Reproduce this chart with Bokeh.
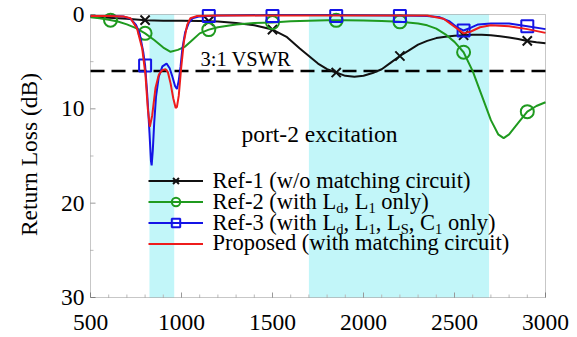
import math
from bokeh.plotting import figure
from bokeh.models import Range1d, BoxAnnotation, Label, Legend, LegendItem
from bokeh.core.properties import value
from bokeh.embed import file_html
from bokeh.resources import INLINE

# ---------------- data ----------------
ref1_x = [500, 600, 700, 800, 900, 1000, 1100, 1200, 1300, 1400, 1500, 1580, 1650, 1700, 1750,
          1800, 1850, 1900, 1950, 2000, 2050, 2100, 2150, 2200, 2250, 2300, 2350, 2400, 2450,
          2500, 2550, 2600, 2650, 2700, 2750, 2800, 2850, 2900, 2950, 3000]
ref1_y = [0.25, 0.35, 0.45, 0.6, 0.65, 0.65, 0.7, 0.75, 0.9, 1.15, 1.6, 2.4, 3.6, 4.4, 5.2,
          5.8, 6.15, 6.5, 6.6, 6.5, 6.2, 5.8, 5.1, 4.4, 3.8, 3.2, 2.8, 2.5, 2.35,
          2.25, 2.2, 2.15, 2.15, 2.2, 2.3, 2.45, 2.6, 2.8, 2.95, 3.05]
ref1_mx = [800, 1150, 1500, 1850, 2200, 2550, 2900]
ref1_my = [0.6, 0.7, 1.6, 6.15, 4.4, 2.2, 2.8]

ref2_x = [500, 550, 600, 650, 700, 750, 800, 850, 900, 940, 980, 1020, 1060, 1100, 1150, 1200,
          1300, 1400, 1500, 1600, 1700, 1800, 1900, 2000, 2100, 2200, 2300, 2350, 2400, 2450,
          2500, 2550, 2600, 2650, 2700, 2740, 2770, 2800, 2850, 2900, 2950, 3000]
ref2_y = [0.28, 0.4, 0.55, 0.75, 1.05, 1.45, 2.0, 2.7, 3.5, 3.95, 3.75, 3.4, 2.7, 2.0, 1.6, 1.35,
          1.05, 0.9, 0.85, 0.72, 0.65, 0.62, 0.62, 0.63, 0.7, 0.78, 0.95, 1.15, 1.5, 2.1,
          2.9, 4.0, 6.0, 8.6, 11.2, 12.7, 13.1, 12.7, 11.5, 10.3, 9.7, 9.3]
ref2_mx = [610, 800, 1150, 1500, 1850, 2200, 2550, 2900]
ref2_my = [0.6, 2.0, 1.6, 0.85, 0.62, 0.78, 4.0, 10.3]

ref3_x = [500, 600, 680, 720, 750, 770, 790, 800, 812, 824, 832, 836, 842, 850, 860, 875, 895,
          918, 935, 950, 965, 975, 985, 995, 1005, 1020, 1040, 1060, 1100, 1200, 1500, 1850,
          2200, 2350, 2420, 2470, 2510, 2550, 2590, 2630, 2700, 2800, 2900, 3000]
ref3_y = [0.15, 0.15, 0.2, 0.45, 1.1, 2.0, 4.0, 5.4, 8.5, 12.5, 15.5, 16.0, 14.5, 11.5, 8.7,
          6.6, 5.5, 5.2, 5.7, 6.6, 7.6, 7.9, 7.0, 5.5, 3.6, 1.9, 0.9, 0.4, 0.2, 0.1, 0.05,
          0.05, 0.1, 0.15, 0.3, 0.7, 1.3, 1.7, 1.4, 1.05, 0.95, 0.95, 1.25, 1.55]
ref3_mx = [800, 1150, 1500, 1850, 2200, 2550, 2900]
ref3_my = [5.4, 0.15, 0.15, 0.15, 0.15, 1.7, 1.25]

prop_x = [500, 600, 680, 720, 756, 784, 802, 815, 826, 839, 857, 875, 894, 912, 925, 940, 955,
          968, 975, 985, 998, 1013, 1031, 1049, 1086, 1200, 1600, 2000, 2350, 2440, 2515,
          2550, 2590, 2640, 2700, 2800, 2900, 3000]
prop_y = [0.15, 0.15, 0.2, 0.4, 1.5, 3.6, 6.4, 10.0, 11.9, 10.7, 7.8, 6.4, 5.9, 5.8, 6.1, 7.3,
          8.9, 9.9, 9.8, 8.6, 5.7, 2.9, 1.1, 0.4, 0.15, 0.1, 0.1, 0.1, 0.1, 0.45, 1.5,
          2.0, 1.8, 1.35, 1.15, 1.25, 1.55, 1.95]

band_start = [824, 1700]
band_end = [960, 2690]
vswr_db = 6.0

x_ticks = [500, 1000, 1500, 2000, 2500, 3000]
y_ticks = [0, 10, 20, 30]
y_title = "Return Loss (dB)"

legend_rows = [
    [("Ref-1 (w/o matching circuit)", False)],
    [("Ref-2 (with L", False), ("d", True), (", L", False), ("1", True), (" only)", False)],
    [("Ref-3 (with L", False), ("d", True), (", L", False), ("1", True), (", L", False),
     ("S", True), (", C", False), ("1", True), (" only)", False)],
    [("Proposed (with matching circuit)", False)],
]

# ---------------- layout / styling ----------------
W, H = 577, 337
PX_L, PX_R, PX_T, PX_B = 90, 545, 14, 297      # axes box position on the page
FONT = "Liberation Serif"
C_BLACK, C_GREEN, C_BLUE, C_RED = "#111111", "#1f9a1f", "#1414e6", "#ee1c1c"
C_BAND = "#c2f6f9"
C_FRAME = "#444444"

def dx(px):
    return x_ticks[0] + (px - PX_L) * (x_ticks[-1] - x_ticks[0]) / (PX_R - PX_L)
def dy(py):
    return y_ticks[0] + (py - PX_T) * (y_ticks[-1] - y_ticks[0]) / (PX_B - PX_T)
def dlen_x(n):
    return n * (x_ticks[-1] - x_ticks[0]) / (PX_R - PX_L)
def dlen_y(n):
    return n * (y_ticks[-1] - y_ticks[0]) / (PX_B - PX_T)

# the plotting frame fills the page; the axes box is drawn inside it
p = figure(width=W, height=H, output_backend="svg", toolbar_location=None,
           x_range=Range1d(dx(0), dx(W)), y_range=Range1d(dy(H), dy(0)), min_border=0)
p.xaxis.visible = False
p.yaxis.visible = False
p.xgrid.visible = False
p.ygrid.visible = False
p.outline_line_color = None
p.background_fill_color = "white"
p.border_fill_color = "white"

for s, e in zip(band_start, band_end):
    p.add_layout(BoxAnnotation(left=s, right=e, top=y_ticks[0], bottom=y_ticks[-1],
                               fill_color=C_BAND, fill_alpha=1.0, line_alpha=0,
                               level="underlay"))
p.segment(x0=[x_ticks[0]], x1=[x_ticks[-1]], y0=[vswr_db], y1=[vswr_db], line_color="black",
          line_width=2.5, line_dash="14 7")

# ticks (inward)
x_minor = [v for v in range(x_ticks[0], x_ticks[-1], 100) if v not in x_ticks]
y_minor = [5, 15, 25]
p.segment(x0=x_ticks, x1=x_ticks, y0=[y_ticks[-1]] * len(x_ticks),
          y1=[y_ticks[-1] - dlen_y(5)] * len(x_ticks), line_color="#999999", line_width=1)
p.segment(x0=x_minor, x1=x_minor, y0=[y_ticks[-1]] * len(x_minor),
          y1=[y_ticks[-1] - dlen_y(3)] * len(x_minor), line_color="#bbbbbb", line_width=1)
p.segment(x0=[x_ticks[0]] * len(y_ticks), x1=[x_ticks[0] + dlen_x(5)] * len(y_ticks),
          y0=y_ticks, y1=y_ticks, line_color="#999999", line_width=1)
p.segment(x0=[x_ticks[0]] * len(y_minor), x1=[x_ticks[0] + dlen_x(3)] * len(y_minor),
          y0=y_minor, y1=y_minor, line_color="#bbbbbb", line_width=1)

r1l = p.line(ref1_x, ref1_y, line_color=C_BLACK, line_width=2)
r1m = p.scatter(ref1_mx, ref1_my, marker="x", size=13, line_color=C_BLACK, line_width=2)
r2l = p.line(ref2_x, ref2_y, line_color=C_GREEN, line_width=2)
r2m = p.scatter(ref2_mx, ref2_my, marker="circle", size=13, line_color=C_GREEN,
                fill_color=None, line_width=2)
r3l = p.line(ref3_x, ref3_y, line_color=C_BLUE, line_width=2)
r3m = p.scatter(ref3_mx, ref3_my, marker="square", size=12, line_color=C_BLUE,
                fill_color=None, line_width=2)
r4l = p.line(prop_x, prop_y, line_color=C_RED, line_width=2)

# axes box
p.add_layout(BoxAnnotation(left=x_ticks[0], right=x_ticks[-1], top=y_ticks[0],
                           bottom=y_ticks[-1], fill_alpha=0, line_color=C_FRAME,
                           line_width=1))

# tick labels and axis title
TICK_FS = "23.5px"
for t in x_ticks:
    p.add_layout(Label(x=t, y=dy(322), text=str(t), text_font=FONT, text_font_size=TICK_FS,
                       text_color="black", text_align="center", text_baseline="middle"))
for t in y_ticks:
    p.add_layout(Label(x=dx(84), y=t, text=str(t), text_font=FONT, text_font_size=TICK_FS,
                       text_color="black", text_align="right", text_baseline="middle"))
p.add_layout(Label(x=dx(28), y=dy(154), text=y_title, angle=math.pi / 2, text_font=FONT,
                   text_font_size=TICK_FS, text_color="black", text_align="center",
                   text_baseline="middle"))

p.add_layout(Label(x=dx(200), y=dy(58), text="3:1 VSWR", text_font=FONT,
                   text_font_size="20.5px", text_color="black", text_baseline="middle"))
p.add_layout(Label(x=dx(241), y=dy(133), text="port-2 excitation", text_font=FONT,
                   text_font_size="23.5px", text_color="black", text_baseline="middle"))

# legend glyph samples
leg = Legend(items=[LegendItem(label=value(""), renderers=[r1l, r1m]),
                    LegendItem(label=value(""), renderers=[r2l, r2m]),
                    LegendItem(label=value(""), renderers=[r3l, r3m]),
                    LegendItem(label=value(""), renderers=[r4l])],
             location=(148, H - 254), glyph_width=55, glyph_height=21, label_height=21,
             label_width=0, label_standoff=0, spacing=0, padding=0, margin=0,
             border_line_alpha=0, background_fill_alpha=0, label_text_font_size="1px")
p.add_layout(leg)

# legend texts with subscripts
CW = {' ': .25, '(': .333, ')': .333, ',': .25, '-': .333, '/': .278, 'A': .722, 'C': .667,
      'L': .611, 'P': .556, 'R': .667, 'S': .556, 'a': .444, 'c': .444, 'd': .5, 'e': .444,
      'f': .333, 'g': .5, 'h': .5, 'i': .278, 'l': .278, 'm': .778, 'n': .5, 'o': .5, 'p': .5,
      'r': .333, 's': .389, 't': .278, 'u': .5, 'w': .722, 'x': .5, 'y': .5}
def tw(s, size):
    return sum(CW.get(c, .5) for c in s) * size

MAIN, SUB = 22.5, 14.5
row_py = [180, 201, 222, 242]
for row, py in zip(legend_rows, row_py):
    off = 0.0
    for txt, sub in row:
        size = SUB if sub else MAIN
        lead = len(txt) - len(txt.lstrip(" "))
        p.add_layout(Label(x=dx(212), y=dy(py), x_offset=off + tw(" " * lead, size),
                           y_offset=-6 if sub else 0, text=txt.lstrip(" "), text_font=FONT,
                           text_font_size=f"{size}px", text_color="black",
                           text_baseline="middle"))
        off += tw(txt, size)

open("out.html", "w").write(file_html(p, INLINE))
